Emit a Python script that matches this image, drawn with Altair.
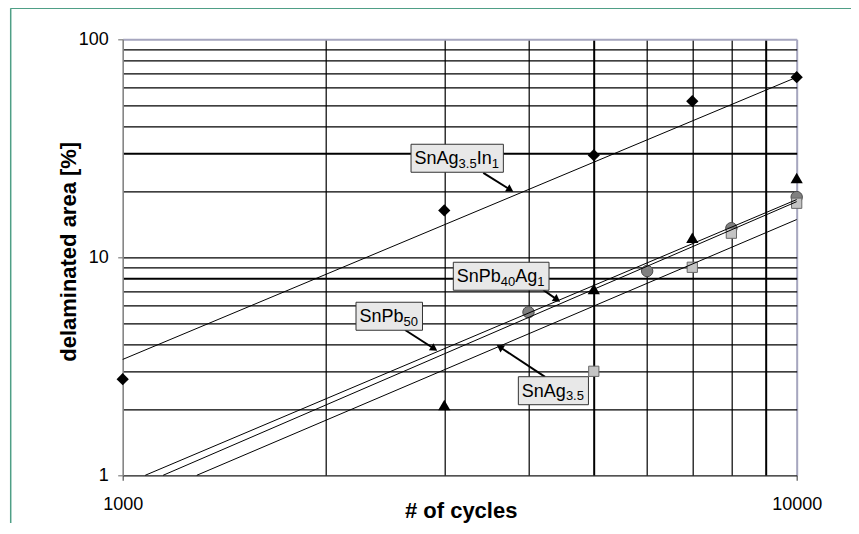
import math
import altair as alt
import pandas as pd

# ---------------- data ----------------
diamond_cycles = [1000, 3000, 5000, 7000, 10000]
diamond_area = [2.76, 16.4, 29.4, 52.0, 67.0]

triangle_cycles = [3000, 5000, 7000, 10000]
triangle_area = [2.1, 7.15, 12.3, 23.1]

circle_cycles = [4000, 6000, 8000, 10000]
circle_area = [5.6, 8.65, 13.6, 18.9]

square_cycles = [5000, 7000, 8000, 10000]
square_area = [3.0, 9.0, 12.9, 17.7]

# trend lines (straight in log-log), endpoints
trend_names = ["SnAg3.5In1", "SnPb50", "SnPb40Ag1", "SnAg3.5"]
trend_x_start = [1000, 1080, 1148, 1288]
trend_y_start = [3.4, 1.0, 1.0, 1.0]
trend_x_end = [10000, 10000, 10000, 10000]
trend_y_end = [67.0, 18.4, 18.0, 14.9]

# callout labels: pieces (text, is_subscript)
label_pieces = [
    [("SnAg", 0), ("3.5", 1), ("In", 0), ("1", 1)],
    [("SnPb", 0), ("40", 1), ("Ag", 0), ("1", 1)],
    [("SnPb", 0), ("50", 1)],
    [("SnAg", 0), ("3.5", 1)],
]
label_box_x = [2678, 3094, 2219, 3864]     # cycles, left edge of box
label_box_y = [33.0, 9.49, 6.22, 2.833]    # %, top edge of box
arrow_from_x = [3428, 4207, 2624, 4233]
arrow_from_y = [24.4, 7.08, 4.64, 2.83]
arrow_to_x = [3798, 4456, 2929, 3589]
arrow_to_y = [20.0, 6.26, 3.73, 3.96]

x_ticks = [1000, 2000, 3000, 4000, 5000, 6000, 7000, 8000, 9000, 10000]
y_ticks = [1, 2, 3, 4, 5, 6, 7, 8, 9, 10, 20, 30, 40, 50, 60, 70, 80, 90, 100]

# ---------------- layout helpers ----------------
FONT = "Liberation Sans"
W, H = 674, 436
MAIN, SUB = 18, 13


def x2px(v):
    return (math.log10(v) - 3) * W


def y2px(v):
    return H - math.log10(v) / 2 * H


def px2x(p):
    return 10 ** (3 + p / W)


def px2y(p):
    return 10 ** (2 * (H - p) / H)


ARIAL = {"S": .667, "n": .556, "A": .667, "g": .556, "I": .278, "P": .667,
         "b": .556, ".": .278}


def tw(s, size):
    return sum(ARIAL.get(c, .556) for c in s) * size


# ---------------- scales / axes ----------------
xscale = alt.Scale(type="log", domain=[1000, 10000], nice=False)
yscale = alt.Scale(type="log", domain=[1, 100], nice=False)

xaxis = alt.Axis(
    values=x_ticks, format="d",
    labelExpr="(datum.value == 1000 || datum.value == 10000) ? datum.label : ''",
    labelFlush=False, labelOverlap=False, labelFont=FONT, labelFontSize=18,
    labelColor="black", labelPadding=15.5,
    tickSize=5, tickColor="#555555", tickWidth=1.2,
    tickOpacity={"condition": {"test": "datum.value == 1000 || datum.value == 10000", "value": 1}, "value": 0},
    grid=True,
    gridColor={"condition": {"test": "datum.value == 10000", "value": "#a6a6bf"}, "value": "black"},
    gridWidth={"condition": {"test": "datum.value == 5000 || datum.value == 9000 || datum.value == 10000", "value": 2}, "value": 1.2},
    gridOpacity={"condition": {"test": "datum.value == 1000", "value": 0}, "value": 1},
    domainColor="#222222", domainWidth=1.3,
    title="# of cycles", titleFont=FONT, titleFontSize=22, titleFontWeight="bold",
    titleColor="black", titleBaseline="alphabetic", titleY=42, titleX=338,
)

yaxis = alt.Axis(
    values=y_ticks, format="d",
    labelExpr="(datum.value == 1 || datum.value == 10 || datum.value == 100) ? datum.label : ''",
    labelOverlap=False, labelFlush=False, labelFont=FONT, labelFontSize=18,
    labelColor="black", labelPadding=9.4,
    tickSize=5, tickColor="#808080", tickWidth=1.2,
    tickOpacity={"condition": {"test": "datum.value == 1 || datum.value == 10 || datum.value == 100", "value": 1}, "value": 0},
    grid=True,
    gridColor={"condition": {"test": "datum.value == 100", "value": "#a6a6bf"},
               "value": "black"},
    gridWidth={"condition": {"test": "datum.value == 8 || datum.value == 30 || datum.value == 100", "value": 2}, "value": 1.2},
    gridOpacity={"condition": {"test": "datum.value == 1", "value": 0}, "value": 1},
    domainColor="#808080", domainWidth=1.5,
    title="delaminated area [%]", titleFont=FONT, titleFontSize=22,
    titleFontWeight="bold", titleColor="black", titleAngle=-90,
    titleBaseline="alphabetic", titleX=-47, titleY=212,
)


def X(f="x"):
    return alt.X(f"{f}:Q", scale=xscale, axis=xaxis)


def Y(f="y"):
    return alt.Y(f"{f}:Q", scale=yscale, axis=yaxis)


# ---------------- markers ----------------
def pts(xs, ys):
    return pd.DataFrame({"x": xs, "y": ys})


diamonds = alt.Chart(pts(diamond_cycles, diamond_area)).mark_point(
    shape="diamond", filled=True, color="black", size=150, opacity=1
).encode(x=X(), y=Y())

triangles = alt.Chart(pts(triangle_cycles, triangle_area)).mark_point(
    shape="triangle-up", filled=True, color="black", size=150, opacity=1
).encode(x=X(), y=Y())

circles = alt.Chart(pts(circle_cycles, circle_area)).mark_point(
    shape="circle", filled=True, fill="#808080", stroke="#4a4a4a",
    strokeWidth=1, size=130, opacity=1
).encode(x=X(), y=Y())

squares = alt.Chart(pts(square_cycles, square_area)).mark_point(
    shape="square", filled=True, fill="#c4c4c4", stroke="#666666",
    strokeWidth=1, size=105, opacity=1
).encode(x=X(), y=Y())

# ---------------- trend lines ----------------
trend_df = pd.DataFrame({
    "name": trend_names, "x": trend_x_start, "y": trend_y_start,
    "x2": trend_x_end, "y2": trend_y_end,
})
trends = alt.Chart(trend_df).mark_rule(color="black", strokeWidth=1).encode(
    x=X(), y=Y(), x2="x2:Q", y2="y2:Q"
)

# ---------------- callouts ----------------
box_rows, text_rows, arrow_rows, head_rows = [], [], [], []
HEAD = 3.6
for i, pieces in enumerate(label_pieces):
    left = x2px(label_box_x[i])
    top = y2px(label_box_y[i])
    total = sum(tw(t, SUB if s else MAIN) for t, s in pieces)
    width = 3.5 + total + 4.5
    box_rows.append({"x": label_box_x[i], "y": label_box_y[i],
                     "x2": px2x(left + width), "y2": px2y(top + 28)})
    cur = left + 3.5
    for t, s in pieces:
        size = SUB if s else MAIN
        base = top + 20 + (3.5 if s else 0)
        text_rows.append({"x": px2x(cur), "y": px2y(base), "t": t, "size": size})
        cur += tw(t, size)
    sx, sy = x2px(arrow_from_x[i]), y2px(arrow_from_y[i])
    tx, ty = x2px(arrow_to_x[i]), y2px(arrow_to_y[i])
    dx, dy = tx - sx, ty - sy
    L = math.hypot(dx, dy)
    ux, uy = dx / L, dy / L
    cx, cy = tx - ux * HEAD, ty - uy * HEAD
    ang = math.degrees(math.atan2(ux, -uy)) % 360
    arrow_rows.append({"x": arrow_from_x[i], "y": arrow_from_y[i],
                       "x2": px2x(cx), "y2": px2y(cy)})
    head_rows.append({"x": px2x(cx), "y": px2y(cy), "angle": ang})

arrows = alt.Chart(pd.DataFrame(arrow_rows)).mark_rule(
    color="black", strokeWidth=2
).encode(x=X(), y=Y(), x2="x2:Q", y2="y2:Q")

heads = alt.Chart(pd.DataFrame(head_rows)).mark_point(
    shape="triangle-up", filled=True, color="black", size=70, opacity=1
).encode(x=X(), y=Y(), angle=alt.Angle("angle:Q", scale=None))

boxes = alt.Chart(pd.DataFrame(box_rows)).mark_rect(
    fill="#e8e8e8", stroke="#333333", strokeWidth=1
).encode(x=X(), y=Y(), x2="x2:Q", y2="y2:Q")

texts = alt.Chart(pd.DataFrame(text_rows)).mark_text(
    align="left", baseline="alphabetic", font=FONT, color="black"
).encode(x=X(), y=Y(), text="t:N", size=alt.Size("size:Q", scale=None))

# ---------------- outer green frame ----------------
GREEN = "#4f9f86"
frame_left = alt.Chart(pd.DataFrame({"a": [0]})).mark_rule(
    color=GREEN, strokeWidth=1.5
).encode(x=alt.value(-112), y=alt.value(-31), y2=alt.value(520))
frame_top = alt.Chart(pd.DataFrame({"a": [0]})).mark_rule(
    color=GREEN, strokeWidth=1.5
).encode(y=alt.value(-31), x=alt.value(-112), x2=alt.value(760))

chart = alt.layer(
    diamonds, triangles, circles, squares, trends, arrows, heads, boxes, texts,
    frame_left, frame_top,
).properties(
    width=W, height=H,
    autosize=alt.AutoSizeParams(type="none"),
    padding={"left": 114.7, "top": 31.3, "right": 54, "bottom": 48},
).configure_view(stroke=None).configure(background="white")

chart.save("out.html", embed_options={"renderer": "svg", "actions": False})
